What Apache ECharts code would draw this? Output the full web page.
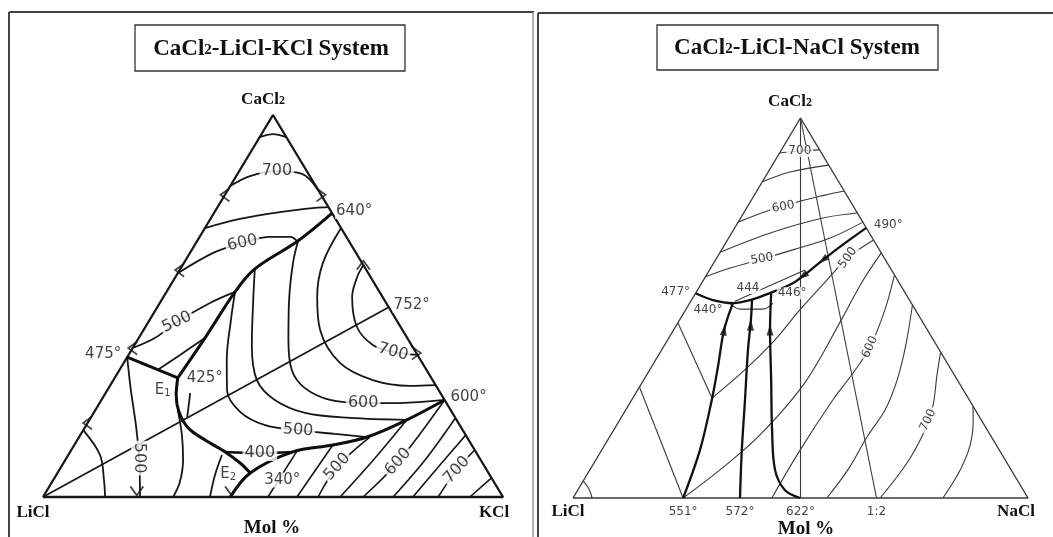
<!DOCTYPE html>
<html>
<head>
<meta charset="utf-8">
<script src="https://cdn.jsdelivr.net/npm/echarts@6/dist/echarts.min.js"></script>
<style>
  html, body { margin: 0; padding: 0; background: #fff; }
  #chart-container { width: 1053px; height: 537px; }
</style>
</head>
<body>
<div id="chart-container"></div>
<script>
// ---- CaCl2-LiCl-KCl : puntos [CaCl2 %, KCl %] (LiCl = resto) ----
const kTriangulo = [[0, 0], [0, 100], [100, 0], [0, 0]];
const kIso94 = [[94.2, 0], [95, 2.5], [94.2, 5.8]];
const kIso700 = [[81.4, 0], [84, 3], [85.3, 8.2], [84.6, 14], [80.4, 19.6]];
const kIso650 = [[70.4, 0], [72.8, 6.4], [74.6, 14.2], [75.7, 21.3], [75.9, 24.1]];
const kIso600a = [[58.6, 0], [64.1, 5.3], [66.5, 10.1], [68.1, 15.3], [68.1, 19.7], [66.8, 22.0]];
const kIso600b = [[66.8, 22.0], [61.3, 23.7], [51.6, 27.7], [41.1, 32.8], [33.2, 37.5], [28.5, 42.7], [25.4, 49.7], [24.6, 57.3], [24.6, 65.3], [25.4, 74.6]];
const kIso500a = [[39, 0], [41.6, 3.5], [45.8, 6.2], [50.8, 10.9], [53.7, 14.9]];
const kIso500b = [[53.7, 14.9], [46.3, 17.7], [35.9, 22.0], [28.0, 26.0], [22.3, 31.7], [18.8, 38.9], [17.5, 46.7], [16.5, 55.2], [15.7, 62.6]];
const kIso550 = [[59.7, 16.2], [51.6, 19.9], [39.8, 25.5], [30.6, 31.2], [25.4, 37.7], [22.0, 46.0], [20.7, 56.4], [20.2, 69.0]];
const kIso650b = [[70.4, 29.6], [61.3, 30.2], [52.4, 33.4], [43.7, 38.4], [35.1, 47.0], [30.6, 56.4], [29.1, 65.2], [29.3, 70.7]];
const kIso700b = [[60.7, 39.3], [57.6, 39.5], [52.4, 41.0], [44.5, 46.0], [39.8, 51.8], [38.0, 57.1], [37.2, 62.8]];
const kIso500c = [[36.6, 0], [28.0, 5.1], [18.8, 10.8], [10.2, 15.8], [0, 21.1]];
const kIso450 = [[17.5, 0], [11.0, 6.9], [4.5, 11.0], [0, 13.5]];
const kIsoE1 = [[22.8, 17.9], [16.2, 22.1], [9.7, 25.6], [3.9, 27.8], [0, 28.3]];
const kIsoE2 = [[11.0, 33.4], [5.8, 34.5], [0, 36.3]];
const kCorto1 = [[33.2, 8.2], [37.2, 11.2], [41.6, 14.4]];
const kCorto2 = [[27.2, 18.4], [20.9, 20.9]];
const kDiagonales = [
  [[0, 48.9], [12.0, 49.2]],
  [[0, 55.2], [13.6, 56.2]],
  [[0, 59.8], [7.9, 60.0], [15.7, 63.2]],
  [[0, 64.6], [10.2, 67.1], [20.2, 69.0]],
  [[0, 69.6], [9.2, 72.6], [25.4, 74.6]],
  [[0, 76.1], [9.7, 78.2], [20.7, 79.3]],
  [[0, 80.4], [8.4, 82.1], [16.2, 83.8]],
  [[0, 85.9], [7.1, 86.4], [12.3, 87.7]],
  [[0, 92.8], [5.0, 95.0]]
];
// lineas gruesas (limites de campo)
const kB640 = [[74.3, 25.7], [67.0, 21.9], [59.7, 16.2], [53.7, 14.9], [41.6, 14.4], [31.2, 13.7]];
const kB475 = [[36.6, 0], [31.2, 13.7]];
const kBE1E2 = [[31.2, 13.7], [26.7, 15.6], [22.3, 18.4], [18.1, 22.5], [14.9, 27.8], [11.8, 33.7], [8.9, 38.4], [6.3, 41.9]];
const kB600 = [[0, 40.7], [6.3, 41.9], [11.8, 48.4], [13.6, 56.2], [15.7, 62.6], [20.2, 69.0], [25.4, 74.6]];
const kIso400 = [[11.8, 33.7], [11.5, 41.4], [11.8, 48.4]];
const kUnion = [[0, 0], [49.7, 50.3]];
// flechitas sobre los lados: [punto, giro]
const kMarcas = [
  [[79.1, 0], 0], [[79.1, 20.9], 180], [[59.4, 0], 0], [[60.7, 39.3], -90],
  [[39, 0], 0], [[19.4, 0], 0], [[37.7, 62.3], 180], [[1.6, 19.6], 90], [[1.6, 40.2], 90]
];

const kEtiquetas = [
  ['700', [85.3, 8.2], 0], ['600', [66.5, 10.1], 12], ['500', [45.8, 6.2], 25],
  ['600', [24.6, 57.3], 0], ['500', [17.5, 46.7], -4], ['700', [38.0, 57.1], -15],
  ['400', [11.5, 41.4], 0], ['500', [10.2, 15.8], -90],
  ['500', [7.9, 60.0], 48], ['600', [9.2, 72.6], 48], ['700', [7.1, 86.4], 48]
];
const kPuntos = [
  ['640°', [74.3, 25.7], [22, -2]], ['752°', [49.7, 50.3], [23, -2]],
  ['600°', [25.4, 74.6], [24, -3]], ['475°', [36.6, 0], [-24, -3]],
  ['425°', [31.2, 13.7], [27, 0]], ['{e|E}{s|1}', [31.2, 13.7], [-15, 12]],
  ['{e|E}{s|2}', [6.3, 41.9], [-22, 1]], ['340°', [6.3, 41.9], [32, 7]]
];

// ---- CaCl2-LiCl-NaCl : puntos [CaCl2 %, NaCl %] ----
const nTriangulo = [[0, 0], [0, 100], [100, 0], [0, 0]];
const nRecta50 = [[100, 0], [0, 50]];
const nRecta12 = [[100, 0], [0, 66.7]];
const nIso700 = [[90.8, 0], [91.3, 4.2], [91.6, 8.4]];
const nIso650 = [[83.2, 0], [85.8, 4.8], [87.6, 12.4]];
const nIso600 = [[72.6, 0], [75.8, 5.4], [76.6, 7.9], [77.9, 10.3], [79.7, 15.5], [80.8, 19.2]];
const nIso550 = [[64.7, 0], [70, 9], [73.7, 18.1], [75, 25]];
const nIso500 = [[58.2, 0], [60.5, 4.3], [62.9, 10.1], [65.5, 16.1], [68.4, 22.3], [72.6, 27.4]];
const nLimite = [[53.9, 0], [52.1, 4.7], [51.3, 9.5], [52.1, 12.9], [53.9, 16.3], [56.6, 20.1], [59.2, 21.8], [62.6, 23.6], [66.1, 25.6], [71.1, 28.9]];
const nLente = [[51.1, 9.0], [49.7, 11.9], [49.7, 16.9], [51.3, 18.3]];
const nSobre = [[51.8, 9.7], [55.8, 15.2], [60, 21]];
const nV551 = [[0, 24.2], [12.6, 21.6], [25.8, 17.6], [34.5, 14.6], [44.2, 11.1], [51.3, 9.5]];
const nV572 = [[0, 36.7], [12.6, 30.8], [25.8, 24.9], [38.9, 19.0], [46.8, 15.7], [52.1, 13.3]];
const nV622 = [[0, 49.9], [2.1, 45.5], [7.4, 40.7], [17.9, 34.8], [31.1, 28.0], [44.2, 21.2], [53.9, 16.6]];
const nEsquina = [[4.5, 0], [2.4, 2.3], [0, 4.2]];
const nT1 = [[29.2, 0], [0, 24.2]];
const nT2 = [[46.1, 0], [26.3, 17.4]];
const nT500 = [[26.3, 17.4], [33.7, 20.9], [41.6, 23.6], [49.5, 25.1], [56.8, 27.0], [63.2, 28.8], [67.9, 32.1]];
const nT551 = [[0, 24.2], [7.4, 28.6], [16.6, 32.8], [30.5, 35.8], [47.6, 35.5], [56.8, 35.1], [64.5, 35.5]];
const nT600 = [[58.7, 41.3], [49.5, 43.8], [39.7, 45.4], [32.9, 45.1], [25.8, 44.2], [12.6, 43.6], [0, 43.7]];
const nT650 = [[0, 55.8], [7.4, 56.7], [16.1, 56.6], [23.2, 57.0], [31.1, 55.7], [40.3, 53.0], [50.8, 49.2]];
const nT700 = [[0, 67.5], [9.2, 68.8], [17.9, 68.4], [24.5, 66.9], [32.4, 63.8], [38.4, 61.6]];
const nT750 = [[0, 81.3], [7.4, 81.4], [14.0, 80.3], [20.5, 77.7], [24.2, 75.8]];

const nEtiquetas = [
  ['700', [91.3, 4.2], 0], ['600', [76.6, 7.9], 10], ['500', [62.9, 10.1], 10],
  ['500', [63.2, 28.8], 55], ['600', [39.7, 45.4], 65], ['700', [20.5, 67.8], 65]
];
const nPuntos = [
  ['477°', [53.9, 0], [-20, -1]], ['440°', [51.3, 9.5], [-25, 7]],
  ['444', [52.1, 13.3], [-4, -12]], ['446°', [53.9, 16.6], [21, 0]],
  ['490°', [71.1, 28.9], [22, -3]],
  ['551°', [0, 24.2], [0, 14]], ['572°', [0, 36.7], [0, 14]],
  ['622°', [0, 50], [0, 14]], ['1:2', [0, 66.7], [0, 14]]
];
const nFlechas = [
  [[44.2, 11.1], -9], [[45.5, 16.3], -2], [[44.2, 21.2], 0],
  [[62.6, 23.6], 127], [[58.4, 21.3], 125]
];

// composicion -> coordenadas del triangulo
function tern(p) {
  return [p[1] + p[0] / 2, p[0]];
}

function linea(pts, g, ancho, color, suave) {
  return {
    type: 'line', xAxisIndex: g, yAxisIndex: g,
    data: pts.map(tern), symbol: 'none', smooth: suave ? 0.35 : false,
    lineStyle: { width: ancho, color: color }, silent: true, clip: false, z: 2
  };
}

function etiquetas(lista, g, tam) {
  return {
    type: 'scatter', xAxisIndex: g, yAxisIndex: g, symbolSize: 1, clip: false, z: 5,
    itemStyle: { color: 'rgba(0,0,0,0)' },
    data: lista.map(e => ({
      value: tern(e[1]),
      label: {
        show: true, position: 'inside', formatter: e[0], rotate: e[2],
        fontFamily: 'DejaVu Sans', fontSize: tam, color: '#111',
        backgroundColor: '#fff', padding: [0, 2]
      }
    }))
  };
}

function puntos(lista, g, tam) {
  return {
    type: 'scatter', xAxisIndex: g, yAxisIndex: g, symbolSize: 1, clip: false, z: 5,
    itemStyle: { color: 'rgba(0,0,0,0)' },
    data: lista.map(e => ({
      value: tern(e[1]),
      label: {
        show: true, position: 'inside', formatter: e[0], offset: e[2],
        fontFamily: 'DejaVu Sans', fontSize: tam, color: '#111',
        backgroundColor: '#fff', padding: [0, 1],
        rich: { e: { fontSize: tam, fontFamily: 'DejaVu Sans', color: '#111' },
                s: { fontSize: tam - 5, fontFamily: 'DejaVu Sans', color: '#111', padding: [7, 0, 0, 0] } }
      }
    }))
  };
}

const colorK = '#161616';
const colorN = '#3a3a3a';
const series = [];

// panel izquierdo
series.push(linea(kTriangulo, 0, 2.3, colorK, false));
[kIso94, kIso700, kIso650, kIso600a, kIso600b, kIso500a, kIso500b, kIso550, kIso650b,
 kIso700b, kIso500c, kIso450, kIsoE1, kIsoE2, kCorto1, kCorto2].forEach(l => series.push(linea(l, 0, 1.8, colorK, true)));
kDiagonales.forEach(l => series.push(linea(l, 0, 1.6, colorK, true)));
series.push(linea(kUnion, 0, 1.7, colorK, false));
[kB640, kB475, kBE1E2, kB600].forEach(l => series.push(linea(l, 0, 3, '#0d0d0d', true)));
series.push(linea(kIso400, 0, 2.6, '#0d0d0d', true));
series.push({
  type: 'scatter', xAxisIndex: 0, yAxisIndex: 0, symbol: 'path://M10 0 L0 6 L10 12', symbolSize: [9, 13],
  itemStyle: { color: 'rgba(0,0,0,0)', borderColor: colorK, borderWidth: 1.6 }, z: 3, silent: true,
  data: kMarcas.map(m => ({ value: tern(m[0]), symbolRotate: m[1] }))
});
series.push(etiquetas(kEtiquetas, 0, 16));
series.push(puntos(kPuntos, 0, 15));

// panel derecho
series.push(linea(nTriangulo, 1, 1.4, colorN, false));
[nRecta50, nRecta12, nT1, nT2].forEach(l => series.push(linea(l, 1, 1.1, colorN, false)));
[nIso700, nIso650, nIso600, nIso550, nIso500, nLente, nSobre, nEsquina, nT500, nT551,
 nT600, nT650, nT700, nT750].forEach(l => series.push(linea(l, 1, 1.1, colorN, true)));
[nLimite, nV551, nV572, nV622].forEach(l => series.push(linea(l, 1, 2.3, '#111', true)));
series.push({
  type: 'scatter', xAxisIndex: 1, yAxisIndex: 1, symbol: 'triangle', symbolSize: [7, 11],
  itemStyle: { color: '#111' }, z: 4, silent: true,
  data: nFlechas.map(f => ({ value: tern(f[0]), symbolRotate: f[1] }))
});
series.push(etiquetas(nEtiquetas, 1, 12));
series.push(puntos(nPuntos, 1, 12));

const serif = 'Liberation Serif';
const textoTitulo = (x, y, resto) => ({
  type: 'text', x: x, y: y,
  style: {
    text: '{a|CaCl}{b|2}{a|' + resto + '}', align: 'center', verticalAlign: 'middle',
    rich: {
      a: { fontFamily: serif, fontWeight: 'bold', fontSize: 23, fill: '#111' },
      b: { fontFamily: serif, fontWeight: 'bold', fontSize: 15, fill: '#111', padding: [3, 0, 0, 0] }
    }
  }
});
const textoVertice = (x, y, t, tam) => ({
  type: 'text', x: x, y: y,
  style: {
    text: t, align: 'center', verticalAlign: 'middle',
    rich: {
      a: { fontFamily: serif, fontWeight: 'bold', fontSize: tam, fill: '#111' },
      b: { fontFamily: serif, fontWeight: 'bold', fontSize: tam - 5, fill: '#111', padding: [2, 0, 0, 0] }
    }
  }
});

const option = {
  animation: false,
  backgroundColor: '#fff',
  grid: [
    { left: 43, top: 115, width: 460, height: 382 },
    { left: 573, top: 118, width: 455, height: 380 }
  ],
  xAxis: [
    { gridIndex: 0, type: 'value', min: 0, max: 100, show: false },
    { gridIndex: 1, type: 'value', min: 0, max: 100, show: false }
  ],
  yAxis: [
    { gridIndex: 0, type: 'value', min: 0, max: 100, show: false },
    { gridIndex: 1, type: 'value', min: 0, max: 100, show: false }
  ],
  graphic: [
    // marcos
    { type: 'line', shape: { x1: 9, y1: 12, x2: 534, y2: 12 }, style: { stroke: '#444', lineWidth: 2 } },
    { type: 'line', shape: { x1: 9, y1: 12, x2: 9, y2: 537 }, style: { stroke: '#444', lineWidth: 2 } },
    { type: 'line', shape: { x1: 533, y1: 12, x2: 533, y2: 537 }, style: { stroke: '#999', lineWidth: 1.5 } },
    { type: 'line', shape: { x1: 538, y1: 13, x2: 538, y2: 537 }, style: { stroke: '#444', lineWidth: 2 } },
    { type: 'line', shape: { x1: 538, y1: 13, x2: 1053, y2: 13 }, style: { stroke: '#444', lineWidth: 2 } },
    // cajas de titulo
    { type: 'rect', shape: { x: 135, y: 25, width: 270, height: 46 }, style: { fill: '#fff', stroke: '#333', lineWidth: 1.3 } },
    { type: 'rect', shape: { x: 657, y: 25, width: 281, height: 45 }, style: { fill: '#fff', stroke: '#333', lineWidth: 1.3 } },
    textoTitulo(271, 49, '-LiCl-KCl System'),
    textoTitulo(797, 48, '-LiCl-NaCl System'),
    textoVertice(263, 100, '{a|CaCl}{b|2}', 17),
    textoVertice(790, 102, '{a|CaCl}{b|2}', 17),
    textoVertice(33, 513, '{a|LiCl}', 17),
    textoVertice(494, 513, '{a|KCl}', 17),
    textoVertice(272, 528, '{a|Mol %}', 19),
    textoVertice(568, 512, '{a|LiCl}', 17),
    textoVertice(1016, 512, '{a|NaCl}', 17),
    textoVertice(806, 529, '{a|Mol %}', 19)
  ],
  series: series
};

let myChart = echarts.init(document.getElementById('chart-container'), null, { renderer: 'canvas' });
myChart.setOption(option);
window.addEventListener('resize', myChart.resize);
</script>
</body>
</html>
